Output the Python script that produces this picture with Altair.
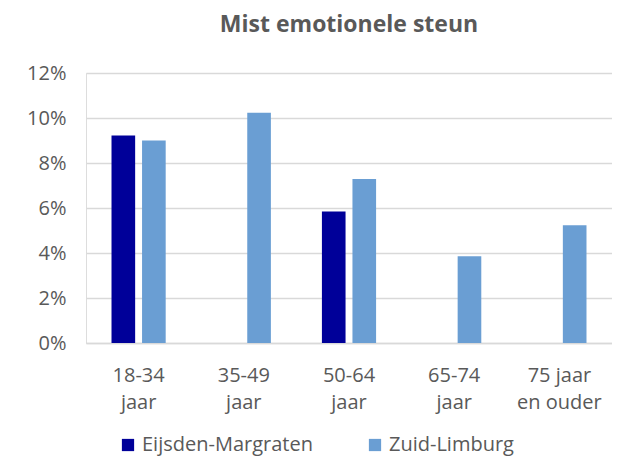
import altair as alt
import pandas as pd

categories = ["18-34|jaar", "35-49|jaar", "50-64|jaar", "65-74|jaar", "75 jaar|en ouder"]
series = ["Eijsden-Margraten", "Zuid-Limburg"]
eijsden = [0.0922, None, 0.0584, None, None]
zuid = [0.0900, 0.1023, 0.0729, 0.0386, 0.0523]
colors = ["#000099", "#6A9ED3"]

rows = []
for c, e, z in zip(categories, eijsden, zuid):
    if e is not None:
        rows.append({"cat": c, "series": series[0], "value": e})
    if z is not None:
        rows.append({"cat": c, "series": series[1], "value": z})
df = pd.DataFrame(rows)

FONT = "Open Sans"
GRAY = "#595959"

chart = alt.Chart(df).mark_bar().encode(
    x=alt.X("cat:N", sort=categories, title=None,
            scale=alt.Scale(paddingInner=0.485, paddingOuter=0.2425),
            axis=alt.Axis(labelAngle=0, labelExpr="split(datum.value, '|')",
                          labelFontSize=20, labelColor=GRAY, labelFont=FONT,
                          labelPadding=22, labelLineHeight=27,
                          ticks=False, domainColor="#D9D9D9", domainWidth=1.5)),
    xOffset=alt.XOffset("series:N", sort=series,
                        scale=alt.Scale(domain=series, paddingInner=0.226)),
    y=alt.Y("value:Q", title=None,
            scale=alt.Scale(domain=[0, 0.12]),
            axis=alt.Axis(format=".0%", values=[0, 0.02, 0.04, 0.06, 0.08, 0.10, 0.12],
                          labelFontSize=20, labelColor=GRAY, labelFont=FONT,
                          labelPadding=20, ticks=False, domain=False,
                          gridColor="#D9D9D9", gridWidth=1.5)),
    color=alt.Color("series:N", sort=series,
                    scale=alt.Scale(domain=series, range=colors),
                    legend=alt.Legend(title=None, orient="none", direction="horizontal",
                                      legendX=32, legendY=362,
                                      symbolType="square", symbolSize=150,
                                      symbolStrokeWidth=0, labelLimit=0,
                                      labelFontSize=20, labelColor=GRAY, labelFont=FONT,
                                      columnPadding=52)),
).properties(
    width=526, height=270,
    title=alt.TitleParams("Mist emotionele steun", fontSize=23, font=FONT,
                          fontWeight="bold", color=GRAY, offset=26,
                          anchor="middle"),
).configure_view(stroke=None).configure(padding={"left": 18, "top": 6, "right": 0, "bottom": 4})

chart.save("out.html", embed_options={"renderer": "svg", "actions": False})
